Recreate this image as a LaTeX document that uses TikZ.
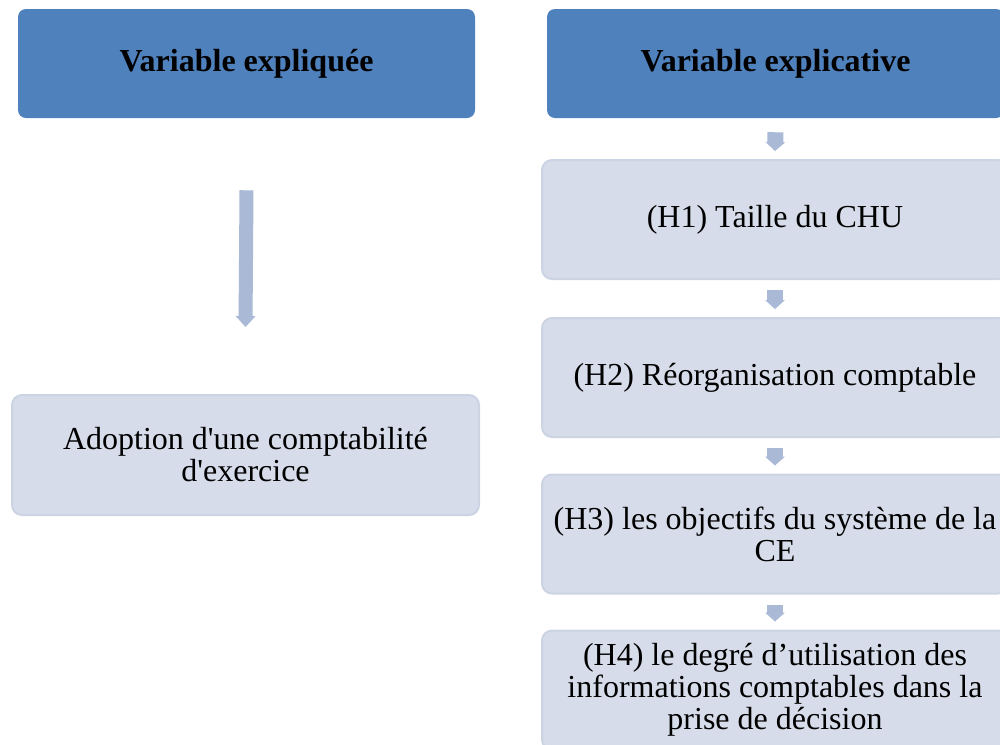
\documentclass[tikz,border=0pt]{standalone}
\usepackage{fontspec}
\setmainfont{Liberation Serif}[Ligatures=TeXOff]
\usepackage{tikz}
\usetikzlibrary{calc}
\usetikzlibrary{arrows.meta}
\usetikzlibrary{positioning}
\definecolor{headblue}{RGB}{79, 129, 189}
\definecolor{boxfill}{RGB}{214, 220, 233}
\definecolor{boxline}{RGB}{204, 212, 228}
\definecolor{arrowblue}{RGB}{169, 185, 214}

\begin{document}
\begin{tikzpicture}[x=0.75pt, y=-0.75pt,
        head/.style   = {fill=headblue, rounded corners=6pt, minimum width=342.75pt, minimum height=81.75pt,
                         font=\fontsize{24}{24}\selectfont\bfseries},
        hbox/.style   = {fill=boxfill, draw=boxline, line width=1.5pt, rounded corners=7.5pt,
                         minimum width=349.5pt, minimum height=89.25pt, align=center,
                         font=\fontsize{24}{24}\selectfont},
        flow/.style   = {draw=arrowblue, line width=12pt, -{Triangle[length=6.75pt, width=15pt, line width=0pt]}},
        bigflow/.style= {draw=arrowblue, line width=10.5pt, -{Triangle[length=8.25pt, width=15pt, line width=0pt]}}]
    \useasboundingbox (0,0) rectangle (1000,744);
    \clip (0,0) rectangle (1000,744);
    \node[head] (hd1) at (246.5, 63.5)  {Variable expliquée};
    \node[head] (hd2) at (775.5, 63.5)  {Variable explicative};
    \node[hbox, minimum width=350.25pt, minimum height=90pt] (adop) at (245.5, 455) {Adoption d'une comptabilité\\d'exercice};
    \node[hbox] (h1) at (775, 219.5) {(H1) Taille du CHU};
    \node[hbox] (h2) at (775, 377.5) {(H2) Réorganisation comptable};
    \node[hbox] (h3) at (775, 534)   {(H3) les objectifs du système de la\\CE};
    \node[hbox] (h4) at (775, 690)   {(H4) le degré d’utilisation des\\informations comptables dans la\\prise de décision};
    \draw[bigflow] ([yshift=-54pt]hd1.south) -- ([yshift=50.25pt]adop.north);
    \draw[flow]    ([yshift=-10.5pt]hd2.south) -- ([yshift=6pt]h1.north);
    \draw[flow]    ([yshift=-7.5pt]h1.south)   -- ([yshift=6pt]h2.north);
    \draw[flow]    ([yshift=-7.5pt]h2.south)   -- ([yshift=6pt]h3.north);
    \draw[flow]    ([yshift=-7.5pt]h3.south)   -- ([yshift=6pt]h4.north);
\end{tikzpicture}
\end{document}
